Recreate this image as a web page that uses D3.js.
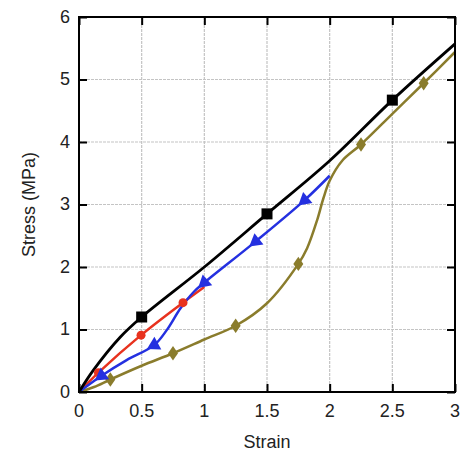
<!DOCTYPE html>
<html lang="en">
<head>
<meta charset="UTF-8">
<script src="https://d3js.org/d3.v7.min.js"></script>
<style>
    body { margin: 0; background: #fff; }
    .tick-label { font-family: "Liberation Sans", Arial, sans-serif; font-size: 18px; fill: #222; }
    .axis-title { font-family: "Liberation Sans", Arial, sans-serif; font-size: 18px; fill: #222; }
    .grid line { stroke: #c4c4c4; stroke-width: 1.2; stroke-dasharray: 3,1; }
</style>
</head>
<body>
<svg id="chart" width="462" height="452"></svg>
<script>
    // tick values
    const xTicks = [0, 0.5, 1, 1.5, 2, 2.5, 3];
    const yTicks = [0, 1, 2, 3, 4, 5, 6];

    // black curve (squares)
    const blackLine = [[0,0],[0.115,0.35],[0.33,0.88],[0.5,1.2],[1,2.0],[1.5,2.85],[2,3.7],[2.5,4.67],[3,5.57]];
    const blackMarks = [[0.5,1.2],[1.5,2.85],[2.5,4.67]];

    // red curve (circles)
    const redLine = [[0,0],[0.155,0.31],[0.495,0.91],[0.83,1.43],[1.0,1.68]];
    const redMarks = [[0.155,0.31],[0.495,0.91],[0.83,1.43]];

    // blue curve (triangles)
    const blueLine = [[0,0],[0.18,0.26],[0.38,0.51],[0.6,0.75],[0.7,0.99],[0.81,1.34],[0.915,1.6],[1.0,1.75],[1.41,2.41],[1.8,3.07],[2.0,3.46]];
    const blueMarks = [[0.18,0.26],[0.6,0.75],[1.0,1.75],[1.41,2.41],[1.8,3.07]];

    // olive curve (diamonds)
    const oliveLine = [[0,0],[0.12,0.08],[0.25,0.2],[0.5,0.42],[0.75,0.62],[1,0.84],[1.25,1.06],[1.5,1.42],[1.75,2.05],[1.82,2.3],[1.9,2.75],[1.95,3.1],[2.0,3.38],[2.1,3.7],[2.25,3.96],[2.5,4.45],[2.75,4.94],[3,5.44]];
    const oliveMarks = [[0.25,0.2],[0.75,0.62],[1.25,1.06],[1.75,2.05],[2.25,3.96],[2.75,4.94]];

    const svg = d3.select("#chart");
    const margin = { top: 17, right: 7, bottom: 60, left: 79 };
    const w = 462 - margin.left - margin.right;
    const h = 452 - margin.top - margin.bottom;

    const x = d3.scaleLinear().domain([0, 3]).range([0, w]);
    const y = d3.scaleLinear().domain([0, 6]).range([h, 0]);

    const g = svg.append("g").attr("transform", "translate(" + margin.left + "," + margin.top + ")");

    // gridlines
    g.append("g").attr("class", "grid")
        .selectAll("line").data(xTicks.slice(1, -1)).enter().append("line")
        .attr("x1", d => x(d)).attr("x2", d => x(d)).attr("y1", 0).attr("y2", h);
    g.append("g").attr("class", "grid")
        .selectAll("line").data(yTicks.slice(1, -1)).enter().append("line")
        .attr("y1", d => y(d)).attr("y2", d => y(d)).attr("x1", 0).attr("x2", w);

    // inside ticks on all four sides
    const tickLen = 8;
    g.append("g").call(d3.axisBottom(x).tickValues(xTicks).tickSize(-tickLen).tickFormat(""))
        .attr("transform", "translate(0," + h + ")");
    g.append("g").call(d3.axisTop(x).tickValues(xTicks).tickSize(-tickLen).tickFormat(""));
    g.append("g").call(d3.axisLeft(y).tickValues(yTicks).tickSize(-tickLen).tickFormat(""));
    g.append("g").call(d3.axisRight(y).tickValues(yTicks).tickSize(-tickLen).tickFormat(""))
        .attr("transform", "translate(" + w + ",0)");
    g.selectAll(".domain").remove();
    g.selectAll(".tick line").attr("stroke", "#000").attr("stroke-width", 2);

    // tick labels
    g.selectAll(".xlab").data(xTicks).enter().append("text")
        .attr("class", "tick-label")
        .attr("x", d => x(d)).attr("y", h + 25)
        .attr("text-anchor", "middle")
        .text(d => d);
    g.selectAll(".ylab").data(yTicks).enter().append("text")
        .attr("class", "tick-label")
        .attr("x", -9).attr("y", d => y(d) + 5.5)
        .attr("text-anchor", "end")
        .text(d => d);

    // axis titles
    svg.append("text").attr("class", "axis-title")
        .attr("x", margin.left + w / 2).attr("y", 448)
        .attr("text-anchor", "middle").text("Strain");
    svg.append("text").attr("class", "axis-title")
        .attr("transform", "translate(35," + (margin.top + h / 2) + ") rotate(-90)")
        .attr("text-anchor", "middle").text("Stress (MPa)");

    const line = d3.line().x(d => x(d[0])).y(d => y(d[1])).curve(d3.curveCatmullRom.alpha(0.5));

    const plot = g.append("g");
    function drawLine(data, color, width) {
        plot.append("path").datum(data)
            .attr("d", line)
            .attr("fill", "none")
            .attr("stroke", color)
            .attr("stroke-width", width)
            .attr("stroke-linejoin", "round");
    }

    drawLine(oliveLine, "#8a7c2c", 2.5);
    drawLine(redLine, "#e8321e", 2.5);
    drawLine(blueLine, "#2430e0", 2.5);
    drawLine(blackLine, "#000", 2.8);

    // markers
    plot.selectAll(".olive").data(oliveMarks).enter().append("path")
        .attr("d", d3.symbol().type(d3.symbolDiamond).size(60))
        .attr("transform", d => "translate(" + x(d[0]) + "," + y(d[1]) + ") scale(1.2,1)")
        .attr("fill", "#8a7c2c");
    plot.selectAll(".red").data(redMarks).enter().append("circle")
        .attr("cx", d => x(d[0])).attr("cy", d => y(d[1])).attr("r", 4.5)
        .attr("fill", "#e8321e");
    // triangles point back along the curve toward the origin
    plot.selectAll(".blue").data(blueMarks).enter().append("path")
        .attr("d", d3.symbol().type(d3.symbolTriangle).size(90))
        .attr("transform", d => {
            const i = blueLine.findIndex(p => p[0] === d[0]);
            const p0 = blueLine[i - 1];
            const ang = Math.atan2(y(p0[1]) - y(d[1]), x(p0[0]) - x(d[0])) * 180 / Math.PI;
            return "translate(" + x(d[0]) + "," + y(d[1]) + ") rotate(" + (ang + 90) + ")";
        })
        .attr("fill", "#2430e0");
    plot.selectAll(".black").data(blackMarks).enter().append("rect")
        .attr("x", d => x(d[0]) - 5.5).attr("y", d => y(d[1]) - 5.5)
        .attr("width", 11).attr("height", 11)
        .attr("fill", "#000");

    // frame
    g.append("rect").attr("width", w).attr("height", h)
        .attr("fill", "none").attr("stroke", "#000").attr("stroke-width", 2);
</script>
</body>
</html>
